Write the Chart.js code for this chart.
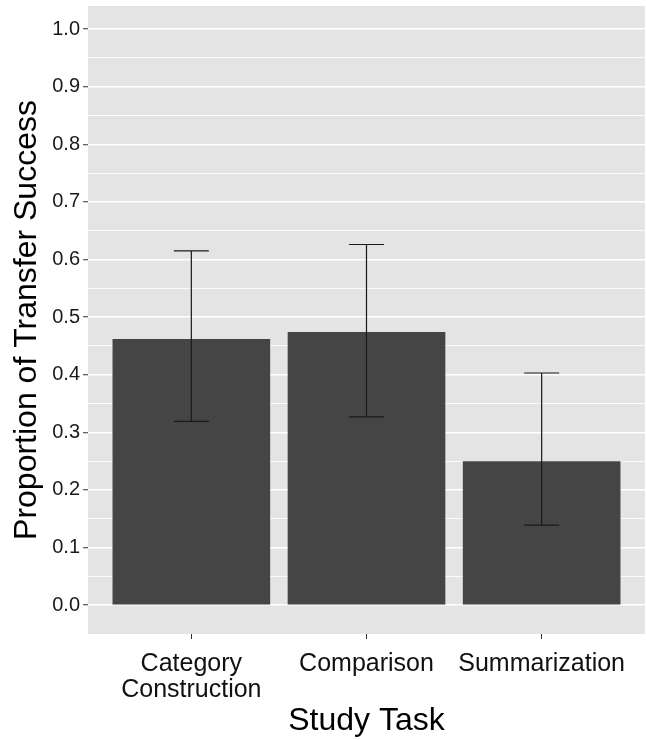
<!DOCTYPE html>
<html>
<head>
<meta charset="utf-8">
<script src="https://cdn.jsdelivr.net/npm/chart.js@4.4.1/dist/chart.umd.min.js"></script>
<style>
  html, body { margin: 0; padding: 0; background: #fff; }
  #wrap { width: 646px; height: 740px; position: relative; }
</style>
</head>
<body>
<div id="wrap"><canvas id="chart"></canvas></div>
<script>
// --- data ---
const tasks = ['Category\nConstruction', 'Comparison', 'Summarization'];
const proportion = [0.462, 0.474, 0.250];
const ciLow = [0.319, 0.327, 0.139];
const ciHigh = [0.615, 0.626, 0.403];
const yMajorTicks = [0.0, 0.1, 0.2, 0.3, 0.4, 0.5, 0.6, 0.7, 0.8, 0.9, 1.0];
const yMinorTicks = [0.05, 0.15, 0.25, 0.35, 0.45, 0.55, 0.65, 0.75, 0.85, 0.95];

const isMajor = v => Math.abs(Math.round(v * 10) - v * 10) < 1e-6;

// grey ggplot-like panel
const panelBg = {
  id: 'panelBg',
  beforeDraw(chart) {
    const { ctx, chartArea: a } = chart;
    ctx.save();
    ctx.fillStyle = '#e4e4e4';
    ctx.fillRect(a.left, a.top, a.right - a.left, a.bottom - a.top);
    ctx.restore();
  }
};

// error bars from ciLow / ciHigh
const errorBars = {
  id: 'errorBars',
  afterDatasetsDraw(chart) {
    const { ctx, scales: { x, y } } = chart;
    ctx.save();
    ctx.strokeStyle = '#1a1a1a';
    ctx.lineWidth = 1.2;
    proportion.forEach((v, i) => {
      const cx = x.getPixelForValue(i + 1);
      const l = x.getPixelForValue(i + 0.9);
      const r = x.getPixelForValue(i + 1.1);
      const top = y.getPixelForValue(ciHigh[i]);
      const bot = y.getPixelForValue(ciLow[i]);
      ctx.beginPath();
      ctx.moveTo(cx, top); ctx.lineTo(cx, bot);
      ctx.moveTo(l, top); ctx.lineTo(r, top);
      ctx.moveTo(l, bot); ctx.lineTo(r, bot);
      ctx.stroke();
    });
    ctx.restore();
  }
};

new Chart(document.getElementById('chart'), {
  type: 'bar',
  data: {
    datasets: [{
      data: proportion.map((v, i) => ({ x: i + 1, y: v })),
      backgroundColor: '#454545',
      borderWidth: 0,
      barPercentage: 0.9,
      categoryPercentage: 1.0
    }]
  },
  options: {
    responsive: true,
    maintainAspectRatio: false,
    animation: false,
    layout: { padding: { top: 6, right: 1, left: 0, bottom: 0 } },
    plugins: { legend: { display: false }, tooltip: { enabled: false } },
    scales: {
      x: {
        type: 'linear',
        min: 0.41,
        max: 3.59,
        offset: false,
        afterBuildTicks: s => { s.ticks = tasks.map((t, i) => ({ value: i + 1 })); },
        afterFit: s => { s.height = 106; },
        border: { display: false },
        grid: { offset: false, drawOnChartArea: false, tickLength: 5, tickColor: '#333', lineWidth: 1 },
        ticks: {
          autoSkip: false,
          maxRotation: 0,
          padding: 12,
          color: '#111',
          font: { family: 'Liberation Sans, Arial, sans-serif', size: 25, lineHeight: 1.05 },
          callback: v => tasks[v - 1] ? tasks[v - 1].split('\n') : ''
        },
        title: {
          display: true,
          text: 'Study Task',
          color: '#000',
          font: { family: 'Liberation Sans, Arial, sans-serif', size: 32 },
          padding: { top: 0, bottom: 0 }
        }
      },
      y: {
        min: -0.05,
        max: 1.04,
        afterBuildTicks: s => {
          s.ticks = yMajorTicks.concat(yMinorTicks).sort((a, b) => a - b).map(v => ({ value: v }));
        },
        afterFit: s => { s.width = 88; },
        border: { display: false },
        grid: {
          color: '#ffffff',
          lineWidth: c => (c.tick && isMajor(c.tick.value)) ? 1.5 : 0.8,
          tickLength: 5,
          tickColor: c => (c.tick && isMajor(c.tick.value)) ? '#333' : 'rgba(0,0,0,0)',
          tickWidth: 1
        },
        ticks: {
          padding: 3,
          color: '#1a1a1a',
          font: { family: 'Liberation Sans, Arial, sans-serif', size: 20, lineHeight: 0.3 },
          callback: v => isMajor(v) ? v.toFixed(1) : ''
        },
        title: {
          display: true,
          text: 'Proportion of Transfer Success',
          color: '#000',
          font: { family: 'Liberation Sans, Arial, sans-serif', size: 32 },
          padding: { top: 8, bottom: 0 }
        }
      }
    }
  },
  plugins: [panelBg, errorBars]
});
</script>
</body>
</html>
